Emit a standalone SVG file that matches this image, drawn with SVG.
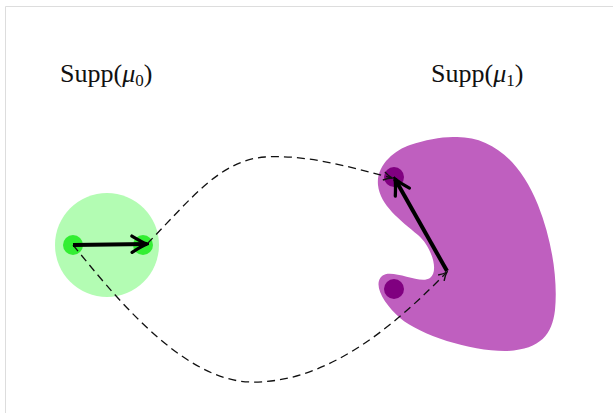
<svg xmlns="http://www.w3.org/2000/svg" width="613" height="413" viewBox="0 0 613 413">
<style>
.lbl{font-family:"Liberation Serif","Times New Roman",serif;font-size:26px;fill:#111}
.dash{fill:none;stroke:#111;stroke-width:1.3;stroke-dasharray:8 5}
.thick{fill:none;stroke:#000;stroke-width:4}
</style>
<defs>
<marker id="bigHead" markerUnits="userSpaceOnUse" markerWidth="20" markerHeight="20" viewBox="-14 -8 16 16" refX="0" refY="0" orient="auto">
<path d="M-12,-6.5 Q-4,-1.5 0,0 Q-4,1.5 -12,6.5" fill="none" stroke="#000" stroke-width="2.6" stroke-linecap="round"/>
</marker>
<marker id="smallHead" markerUnits="userSpaceOnUse" markerWidth="12" markerHeight="12" viewBox="-9 -5 10 10" refX="0" refY="0" orient="auto">
<path d="M-7,-3.5 Q-3,-0.8 0,0 Q-3,0.8 -7,3.5" fill="none" stroke="#111" stroke-width="1.2"/>
</marker>
</defs>
<rect width="613" height="413" fill="#fff"/>
<path d="M5.5,413 V6.5 H613" fill="none" stroke="#ddd" stroke-width="1"/>
<g id="label0"><text class="lbl" x="60" y="82">Supp(<tspan font-style="italic">μ</tspan><tspan font-size="17" dy="4">0</tspan><tspan dy="-4">)</tspan></text></g>
<g id="label1"><text class="lbl" x="431" y="82">Supp(<tspan font-style="italic">μ</tspan><tspan font-size="17" dy="4">1</tspan><tspan dy="-4">)</tspan></text></g>
<g id="mu0">
<circle cx="107" cy="245" r="52" fill="#b3fcb3"/>
<circle cx="73" cy="245" r="10" fill="#33ee33"/>
<circle cx="143" cy="245" r="10" fill="#33ee33"/>
</g>
<g id="mu1">
<path d="M453,137 C490,135 520,160 538,205 C552,240 558,280 555,310 C552,335 540,350 505,351 C470,351 420,335 400,318 C385,305 372,285 382,276 C392,268 420,285 430,278 C440,270 430,245 418,235 C400,220 380,205 378,185 C376,165 395,150 410,145 C425,140 440,137 453,137 Z" fill="#bf5fbf"/>
<circle cx="394" cy="177" r="10" fill="#800080"/>
<circle cx="394" cy="289" r="10" fill="#800080"/>
</g>
<g id="connectors">
<path class="dash" d="M147,244 C190,200 220,160 265,157 C310,154 360,170 392,178" marker-end="url(#smallHead)"/>
<path class="dash" d="M73,245 C110,290 180,380 250,382 C330,384 400,320 447,272" marker-end="url(#smallHead)"/>
<path class="thick" d="M73,245 L147,244" marker-end="url(#bigHead)"/>
<path class="thick" d="M447,271 L395,179" marker-end="url(#bigHead)"/>
</g>
</svg>
